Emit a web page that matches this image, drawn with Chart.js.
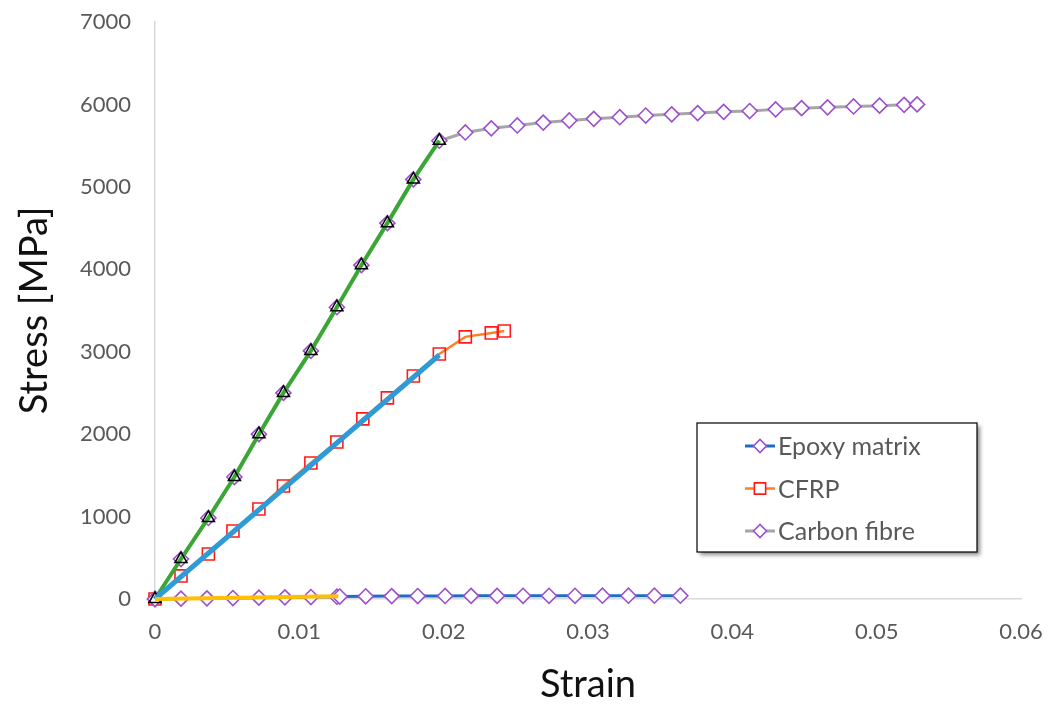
<!DOCTYPE html>
<html><head><meta charset="utf-8">
<script src="https://cdn.jsdelivr.net/npm/chart.js@4.4.0/dist/chart.umd.min.js"></script>
<style>html,body{margin:0;padding:0;background:#fff;}#wrap{width:1051px;height:704px;position:relative;}</style>
</head><body><div id="wrap"><canvas id="c" width="1051" height="704"></canvas></div>
<script>
// ---- data ----
const epoxyStrain = [0, 0.0018, 0.0036, 0.0054, 0.0072, 0.0090, 0.0108, 0.0126, 0.0128, 0.0146, 0.0164, 0.0182, 0.0201, 0.0219, 0.0237, 0.0255, 0.0273, 0.0291, 0.0310, 0.0328, 0.0346, 0.0364];
const epoxyStress = [0, 4, 8, 12, 16, 20, 24, 28, 30, 33, 35, 36, 37, 38, 38, 39, 39, 39, 40, 40, 40, 40];
const cfrpStrain = [0, 0.0018, 0.0037, 0.0054, 0.0072, 0.0089, 0.0108, 0.0126, 0.0144, 0.0161, 0.0179, 0.0197, 0.0215, 0.0233, 0.0242];
const cfrpStress = [0, 280, 546, 825, 1092, 1371, 1650, 1905, 2185, 2440, 2706, 2973, 3180, 3228, 3252];
const fibreStrain = [0, 0.0018, 0.0037, 0.0055, 0.0072, 0.0089, 0.0108, 0.0126, 0.0143, 0.0161, 0.0179, 0.0197, 0.0215, 0.0233, 0.0251, 0.0269, 0.0287, 0.0304, 0.0322, 0.0340, 0.0358, 0.0376, 0.0394, 0.0412, 0.0430, 0.0448, 0.0466, 0.0484, 0.0502, 0.0519, 0.0528];
const fibreStress = [0, 485, 983, 1480, 2000, 2500, 3010, 3540, 4050, 4560, 5090, 5560, 5660, 5710, 5745, 5780, 5805, 5825, 5845, 5865, 5880, 5895, 5910, 5920, 5940, 5955, 5965, 5975, 5985, 5995, 6000];
// elastic (linear) parts
const fibreElasticStrain = fibreStrain.slice(0, 12);
const fibreElasticStress = fibreStress.slice(0, 12);
const cfrpFitStrain = [0, 0.0197];
const cfrpFitStress = [0, 2960];
const epoxyFitStrain = [0, 0.0127];
const epoxyFitStress = [0, 32];
const xTickLabels = ['0', '0.01', '0.02', '0.03', '0.04', '0.05', '0.06'];
const yTickLabels = ['0', '1000', '2000', '3000', '4000', '5000', '6000', '7000'];
const legendNames = ['Epoxy matrix', 'CFRP', 'Carbon fibre'];

const pts = (xs, ys) => xs.map((x, i) => ({x: x, y: ys[i]}));
const FONT = 'Lato, "Open Sans", sans-serif';
const PURPLE = '#9b4fce';

const datasets = [
  {label: 'Epoxy fit', data: pts(epoxyFitStrain, epoxyFitStress), borderColor: '#ffc000', borderWidth: 4, pointRadius: 0, order: 1},
  {label: 'CFRP fit', data: pts(cfrpFitStrain, cfrpFitStress), borderColor: '#2e9ad6', borderWidth: 5, pointRadius: 0, order: 2},
  {label: 'Carbon fibre elastic', data: pts(fibreElasticStrain, fibreElasticStress), borderColor: '#3aa635', borderWidth: 4,
    pointStyle: 'triangle', pointRadius: 7, pointBorderColor: '#000', pointBackgroundColor: 'rgba(0,0,0,0)', pointBorderWidth: 1.5, order: 3},
  {label: legendNames[0], legend: true, data: pts(epoxyStrain, epoxyStress), borderColor: '#1f6cc4', borderWidth: 3,
    pointStyle: 'rectRot', pointRadius: 7.5, pointBorderColor: PURPLE, pointBackgroundColor: '#fff', pointBorderWidth: 1.6, order: 4},
  {label: legendNames[1], legend: true, data: pts(cfrpStrain, cfrpStress), borderColor: '#ff7f27', borderWidth: 2.5,
    pointStyle: 'rect', pointRadius: 8.5, pointBorderColor: '#ff1a1a', pointBackgroundColor: 'rgba(255,255,255,0)', pointBorderWidth: 1.6, order: 5},
  {label: legendNames[2], legend: true, data: pts(fibreStrain, fibreStress), borderColor: '#a6a6a6', borderWidth: 3,
    pointStyle: 'rectRot', pointRadius: 7.5, pointBorderColor: PURPLE, pointBackgroundColor: '#fff', pointBorderWidth: 1.6, order: 6}
];
datasets.forEach(d => { d.showLine = true; d.clip = false; d.tension = 0; });

const boxLegend = {
  id: 'boxLegend',
  afterDraw(chart) {
    const ctx = chart.ctx, ca = chart.chartArea;
    const bx = ca.right - 324, by = ca.top + 401, bw = 280, bh = 129;
    ctx.save();
    ctx.shadowColor = 'rgba(0,0,0,0.45)';
    ctx.shadowBlur = 4; ctx.shadowOffsetX = 3; ctx.shadowOffsetY = 3;
    ctx.fillStyle = '#fff';
    ctx.fillRect(bx, by, bw, bh);
    ctx.restore();
    ctx.save();
    ctx.strokeStyle = '#000'; ctx.lineWidth = 1.2;
    ctx.strokeRect(bx, by, bw, bh);
    const items = chart.data.datasets.filter(d => d.legend);
    items.forEach((d, i) => {
      const cy = by + 23 + i * 42.5;
      const lx = bx + 48;
      ctx.strokeStyle = d.borderColor; ctx.lineWidth = d.borderWidth;
      ctx.beginPath(); ctx.moveTo(lx, cy); ctx.lineTo(lx + 30, cy); ctx.stroke();
      ctx.strokeStyle = d.pointBorderColor; ctx.fillStyle = '#fff'; ctx.lineWidth = d.pointBorderWidth;
      Chart.helpers.drawPoint(ctx, {pointStyle: d.pointStyle, radius: d.pointStyle === 'rect' ? 8 : 6.5, borderWidth: d.pointBorderWidth}, lx + 15, cy);
      ctx.fillStyle = '#595959';
      ctx.font = '25px ' + FONT;
      ctx.textBaseline = 'middle'; ctx.textAlign = 'left';
      ctx.fillText(d.label, lx + 33, cy + 1);
    });
    ctx.restore();
  }
};

new Chart(document.getElementById('c'), {
  type: 'scatter',
  data: {datasets: datasets},
  plugins: [boxLegend],
  options: {
    responsive: false, animation: false,
    layout: {padding: {top: 22, right: 30, left: 0, bottom: 0}},
    plugins: {legend: {display: false}, tooltip: {enabled: false}},
    scales: {
      x: {
        type: 'linear', min: 0, max: 0.06,
        afterBuildTicks: s => { s.ticks = xTickLabels.map(v => ({value: parseFloat(v)})); },
        afterFit: s => { s.height = 105; s.paddingLeft = 0; s.paddingRight = 0; },
        grid: {display: false, drawTicks: false},
        border: {display: true, color: '#d9d9d9', width: 1.5},
        ticks: {padding: 20, color: '#595959', font: {family: FONT, size: 22}, maxRotation: 0,
          callback: (v, i) => xTickLabels[i]},
        title: {display: true, text: 'Strain', color: '#111', font: {family: FONT, size: 38, lineHeight: 1}, padding: {top: 0, bottom: 0}}
      },
      y: {
        type: 'linear', min: 0, max: 7000,
        afterBuildTicks: s => { s.ticks = yTickLabels.map(v => ({value: parseFloat(v)})); },
        afterFit: s => { s.width = 155; s.paddingTop = 0; s.paddingBottom = 0; },
        grid: {display: false, drawTicks: false},
        border: {display: true, color: '#d9d9d9', width: 1.5},
        ticks: {padding: 24, color: '#595959', font: {family: FONT, size: 22},
          callback: (v, i) => yTickLabels[i]},
        title: {display: true, text: 'Stress [MPa]', color: '#111', font: {family: FONT, size: 38, lineHeight: 1}, padding: {top: 16, bottom: 0}}
      }
    }
  }
});
</script></body></html>
